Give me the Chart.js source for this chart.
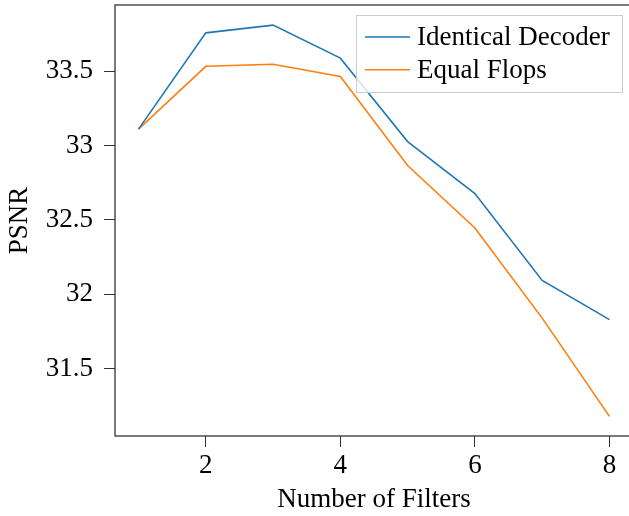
<!DOCTYPE html>
<html>
<head>
<meta charset="utf-8">
<script src="https://cdn.jsdelivr.net/npm/chart.js@4"></script>
<style>
  html, body { margin: 0; padding: 0; background: #fff; overflow: hidden; }
  #wrap { width: 635px; height: 516px; }
</style>
</head>
<body>
<div id="wrap"><canvas id="grafico"></canvas></div>
<script>
// datos
const filtros = [1, 2, 3, 4, 5, 6, 7, 8];
const identicalDecoder = [33.11, 33.757, 33.809, 33.587, 33.026, 32.677, 32.093, 31.83];
const equalFlops = [33.11, 33.532, 33.546, 33.464, 32.865, 32.446, 31.84, 31.18];
const xTicks = [2, 4, 6, 8];
const yTicks = [31.5, 32, 32.5, 33, 33.5];

const serif = '"Liberation Serif", "DejaVu Serif", serif';
const colorEje = '#333333';
const tamFuente = 27;

// marco alrededor del área del gráfico
const marco = {
    id: 'marco',
    afterDraw(chart) {
        const { ctx, chartArea: a } = chart;
        ctx.save();
        ctx.strokeStyle = colorEje;
        ctx.lineWidth = 1.3;
        ctx.strokeRect(a.left, a.top, a.right - a.left, a.bottom - a.top);
        ctx.restore();
    }
};

// leyenda dentro del gráfico (arriba a la derecha)
const leyenda = {
    id: 'leyenda',
    afterDatasetsDraw(chart) {
        const ctx = chart.ctx;
        const a = chart.chartArea;
        const x0 = 356, y0 = a.top + 10, w = a.right - 11 - x0, h = 77;
        ctx.save();
        ctx.fillStyle = 'rgba(255,255,255,0.8)';
        ctx.fillRect(x0, y0, w, h);
        ctx.strokeStyle = '#cccccc';
        ctx.lineWidth = 1;
        ctx.strokeRect(x0 + 0.5, y0 + 0.5, w, h);
        ctx.font = tamFuente + 'px ' + serif;
        ctx.textBaseline = 'alphabetic';
        chart.data.datasets.forEach((ds, i) => {
            const y = y0 + 22 + i * 32.7;
            ctx.strokeStyle = ds.borderColor;
            ctx.lineWidth = 1.6;
            ctx.beginPath();
            ctx.moveTo(x0 + 9, y);
            ctx.lineTo(x0 + 54, y);
            ctx.stroke();
            ctx.fillStyle = '#000';
            ctx.fillText(ds.label, x0 + 61, y + 8);
        });
        ctx.restore();
    }
};

new Chart(document.getElementById('grafico'), {
    type: 'line',
    data: {
        datasets: [
            {
                label: 'Identical Decoder',
                data: filtros.map((f, i) => ({ x: f, y: identicalDecoder[i] })),
                borderColor: '#1f77b4',
                borderWidth: 1.6,
                pointRadius: 0,
                tension: 0,
                fill: false
            },
            {
                label: 'Equal Flops',
                data: filtros.map((f, i) => ({ x: f, y: equalFlops[i] })),
                borderColor: '#ff7f0e',
                borderWidth: 1.6,
                pointRadius: 0,
                tension: 0,
                fill: false
            }
        ]
    },
    options: {
        responsive: true,
        maintainAspectRatio: false,
        animation: false,
        layout: { padding: { top: 5, right: 2, left: 0, bottom: 0 } },
        plugins: {
            legend: { display: false },
            tooltip: { enabled: false }
        },
        scales: {
            x: {
                type: 'linear',
                min: 0.65,
                max: 8.35,
                afterBuildTicks: s => { s.ticks = xTicks.map(v => ({ value: v })); },
                afterFit: s => { s.height = 80; s.paddingLeft = 0; s.paddingRight = 0; },
                border: { display: false },
                grid: { drawOnChartArea: false, drawTicks: true, tickLength: 11, color: colorEje },
                ticks: {
                    color: '#000',
                    padding: 3,
                    maxRotation: 0,
                    font: { family: serif, size: tamFuente },
                    callback: v => String(v)
                },
                title: {
                    display: true,
                    text: 'Number of Filters',
                    color: '#000',
                    font: { family: serif, size: tamFuente },
                    padding: { top: 0, bottom: 0 }
                }
            },
            y: {
                type: 'linear',
                min: 31.048,
                max: 33.944,
                afterBuildTicks: s => { s.ticks = yTicks.map(v => ({ value: v })); },
                afterFit: s => { s.width = 115; s.paddingTop = 0; s.paddingBottom = 0; },
                border: { display: false },
                grid: { drawOnChartArea: false, drawTicks: true, tickLength: 11, color: colorEje },
                ticks: {
                    color: '#000',
                    padding: 11,
                    font: { family: serif, size: tamFuente },
                    callback: v => String(v)
                },
                title: {
                    display: true,
                    text: 'PSNR',
                    color: '#000',
                    font: { family: serif, size: tamFuente },
                    padding: { top: 4, bottom: 0 }
                }
            }
        }
    },
    plugins: [marco, leyenda]
});
</script>
</body>
</html>
